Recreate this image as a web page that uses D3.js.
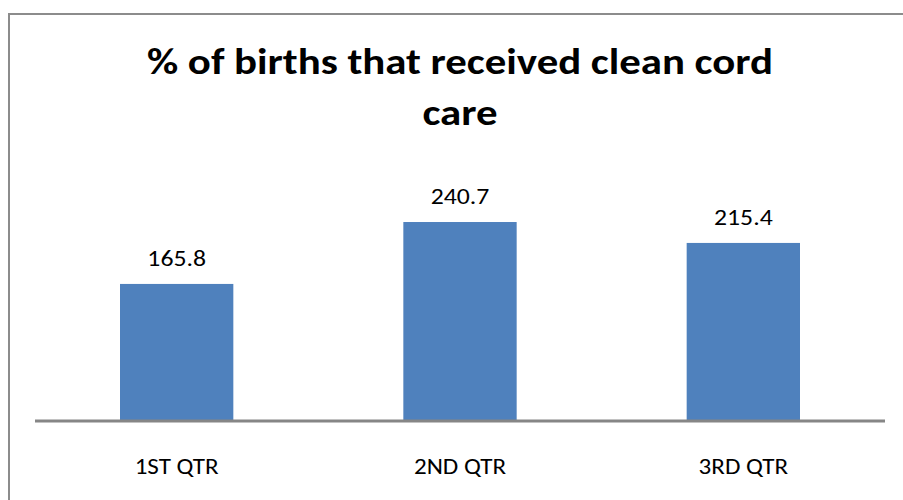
<!DOCTYPE html>
<html>
<head>
<meta charset="utf-8">
<script src="https://cdn.jsdelivr.net/npm/d3@7"></script>
<style>
  html, body { margin: 0; padding: 0; background: #fff; }
  svg { display: block; }
</style>
</head>
<body>
<div id="chart"></div>
<script>
var categories = ["1ST QTR", "2ND QTR", "3RD QTR"];
var values = [165.8, 240.7, 215.4];
var titleLines = ["% of births that received clean cord", "care"];

var width = 903,
    height = 500;

var svg = d3.select("#chart")
    .append("svg")
    .attr("width", width)
    .attr("height", height);

// outer chart border, runs off the right and bottom edges
svg.append("rect")
    .attr("x", 9)
    .attr("y", 14)
    .attr("width", 920)
    .attr("height", 520)
    .attr("fill", "#fff")
    .attr("stroke", "#8c8c8c")
    .attr("stroke-width", 2);

var x = d3.scaleBand()
    .domain(categories)
    .range([35, 885])
    .paddingInner(0.6)
    .paddingOuter(0.3);

var y = d3.scaleLinear()
    .domain([0, 300])
    .range([421, 173]);

var font = "Carlito, Lato, Calibri, sans-serif";

// title (the original text is drawn a bit wide, so stretch it horizontally)
svg.append("text")
    .attr("transform", "translate(460,74) scale(1.19,1)")
    .attr("text-anchor", "middle")
    .attr("font-family", font)
    .attr("font-weight", "bold")
    .attr("font-size", 36)
    .selectAll("tspan")
    .data(titleLines)
    .enter().append("tspan")
    .attr("x", 0)
    .attr("dy", function(d, i) { return i ? 51 : 0; })
    .text(function(d) { return d; });

// bars
svg.selectAll("rect.bar")
    .data(values)
    .enter().append("rect")
    .attr("class", "bar")
    .attr("x", function(d, i) { return x(categories[i]); })
    .attr("y", function(d) { return y(d); })
    .attr("width", x.bandwidth())
    .attr("height", function(d) { return y(0) - y(d); })
    .attr("fill", "#4f81bd");

// value labels
svg.selectAll("text.val")
    .data(values)
    .enter().append("text")
    .attr("class", "val")
    .attr("transform", function(d, i) {
        return "translate(" + (x(categories[i]) + x.bandwidth() / 2) + "," + (y(d) - 18) + ") scale(1.17,1)";
    })
    .attr("text-anchor", "middle")
    .attr("font-family", font)
    .attr("font-size", 22)
    .attr("fill", "#000")
    .text(function(d) { return d.toFixed(1); });

// category axis
var xAxis = svg.append("g")
    .attr("transform", "translate(0," + y(0) + ")")
    .call(d3.axisBottom(x).tickSize(0).tickPadding(0));

xAxis.select(".domain")
    .attr("d", "M35,0H885")
    .attr("stroke", "#868686")
    .attr("stroke-width", 3);

xAxis.selectAll("text")
    .attr("dy", 0)
    .attr("y", 0)
    .attr("transform", "translate(0,53) scale(1.14,1)")
    .attr("font-family", font)
    .attr("font-size", 22)
    .attr("fill", "#000");
</script>
</body>
</html>
